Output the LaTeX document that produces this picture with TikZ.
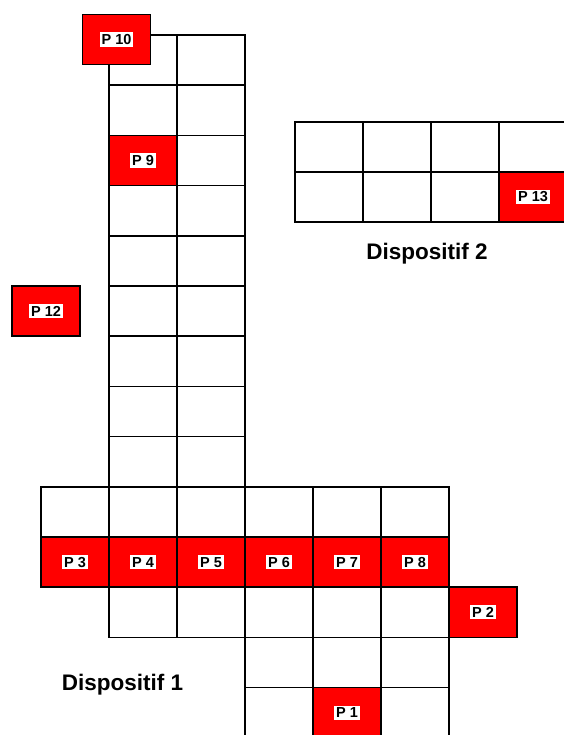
\documentclass[tikz,border=0pt]{standalone}
\usepackage{fontspec}
\setmainfont{Liberation Sans}
\usetikzlibrary{positioning}

\begin{document}
\begin{tikzpicture}[
  x=1pt, y=-1pt, line width=1.5pt,
  cell/.style={draw,rectangle,minimum width=68pt,minimum height=50.2pt,inner sep=0pt},
  post/.style={cell,fill=red},
  tag/.style={fill=white,inner sep=2pt,font=\bfseries\fontsize{14.5}{14.5}\selectfont},
  title/.style={font=\bfseries\fontsize{22.5}{22.5}\selectfont}
]
\useasboundingbox (0,0) rectangle (563,735);

% dispositif 1 : colonne
\foreach \r in {0,...,8}
  \foreach \c in {0,1}
    \node[cell] (col\c-\r) at (143+68*\c, 60.1+50.2*\r) {};
% dispositif 1 : bras
\foreach \c in {0,...,5}
  \node[cell] (top\c) at (75+68*\c, 511.9) {};
\foreach \c in {1,...,5}
  \node[cell] (mid\c) at (75+68*\c, 612.3) {};
\foreach \c in {3,4,5} {
  \node[cell] (low\c) at (75+68*\c, 662.5) {};
  \node[cell] (bot\c) at (75+68*\c, 712.7) {};
}
% dispositif 2
\foreach \c in {0,...,3}
  \foreach \r in {0,1}
    \node[cell,minimum height=50pt] (d2-\c-\r) at (329+68*\c, 147+50*\r) {};

% postes
\foreach \n/\x/\y/\t in {p3/75/562.1/P 3, p4/143/562.1/P 4, p5/211/562.1/P 5,
    p6/279/562.1/P 6, p7/347/562.1/P 7, p8/415/562.1/P 8,
    p1/347/712.7/P 1, p2/483/612.3/P 2, p9/143/160.5/P 9,
    p10/116.5/39.5/P 10, p12/46/311/P 12} {
  \node[post] (\n) at (\x,\y) {};
  \node[tag] (\n t) at (\n) {\t};
}
\node[post,minimum height=50pt] (p13) at (533,197) {};
\node[tag] (p13t) at (p13) {P 13};

\node[title] (disp1) at (122.5,685) {Dispositif 1};
\node[title] (disp2) at (427,254) {Dispositif 2};
\end{tikzpicture}
\end{document}
